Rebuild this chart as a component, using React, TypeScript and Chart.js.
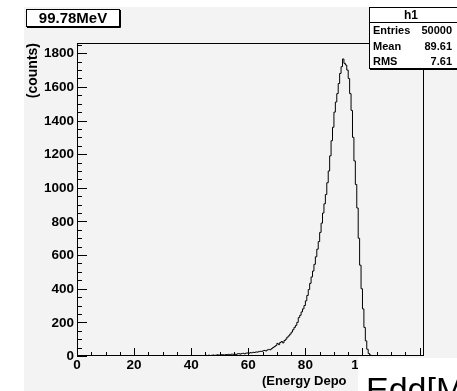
import { useEffect, useRef } from 'react';
import { Chart, registerables } from 'chart.js';

Chart.register(...registerables);

const W = 457;
const H = 391;

// Histogram binning (low edge of first bin and bin width, in MeV)
const BIN_START = 0;
const BIN_WIDTH = 0.5;
const X_MAX = 121.2;
const Y_MAX = 1855;

const xTickValues = [0, 20, 40, 60, 80, 100, 120];
const yTickValues = [0, 200, 400, 600, 800, 1000, 1200, 1400, 1600, 1800];
const X_MINOR_STEP = 5;
const Y_MINOR_STEP = 50;

// Bin contents, one per 0.5 MeV bin starting at 0 MeV
const counts = [
  // 0 - 10
  0, 0, 0, 0, 0, 0, 0, 0, 0, 0, 0, 0, 0, 0, 0, 0, 0, 0, 0, 0,
  // 10 - 20
  0, 0, 0, 0, 0, 0, 0, 0, 0, 0, 0, 0, 0, 0, 0, 0, 0, 0, 0, 0,
  // 20 - 30
  0, 0, 0, 0, 0, 0, 0, 0, 0, 0, 0, 0, 0, 0, 0, 0, 0, 0, 0, 0,
  // 30 - 40
  0, 1, 0, 0, 1, 0, 0, 1, 0, 1, 0, 0, 1, 1, 0, 1, 0, 2, 1, 0,
  // 40 - 50
  1, 2, 1, 2, 3, 1, 2, 3, 2, 3, 3, 4, 2, 5, 3, 4, 6, 4, 5, 7,
  // 50 - 60
  6, 5, 8, 7, 6, 9, 8, 10, 7, 11, 10, 12, 9, 13, 14, 11, 15, 16, 13, 17,
  // 60 - 70
  18, 16, 20, 19, 22, 21, 24, 23, 26, 28, 27, 31, 33, 30, 36, 39, 37, 44, 50, 56,
  // 70 - 80
  62, 75, 68, 80, 86, 78, 92, 100, 112, 120, 130, 142, 156, 170, 182, 200, 228, 242, 262, 280,
  // 80 - 90
  300, 328, 360, 395, 432, 470, 505, 545, 590, 635, 680, 735, 790, 850, 905, 960, 1030, 1100, 1190, 1280,
  // 90 - 100
  1360, 1450, 1510, 1560, 1620, 1680, 1720, 1766, 1740, 1730, 1700, 1650, 1560, 1460, 1300, 1160, 1020, 880, 700, 540,
  // 100 - 105
  400, 280, 170, 90, 40, 15, 6, 2, 1, 0,
];

const titleText = '99.78MeV';
const statsName = 'h1';
const statsLabels = ['Entries', 'Mean', 'RMS'];
const statsValues = ['50000', '89.61', '7.61'];
const yAxisTitle = '(counts)';
const xAxisTitle = '(Energy Depo';
const overlayText = 'Edd[MeV]';

const PAD_BG = '#f3f3f3';
const FONT = "'Liberation Sans', Arial, Helvetica, sans-serif";

export default function App() {
  const ref = useRef<HTMLCanvasElement>(null);

  useEffect(() => {
    const canvas = ref.current;
    if (!canvas) return;
    const ctx = canvas.getContext('2d');
    if (!ctx) return;

    const data = counts.map((c, i) => ({ x: BIN_START + i * BIN_WIDTH, y: c }));
    data.push({ x: X_MAX, y: 0 });

    const rootPlugin = {
      id: 'rootStyle',
      beforeDraw(chart: any) {
        const c = chart.ctx as CanvasRenderingContext2D;
        c.save();
        c.fillStyle = '#ffffff';
        c.fillRect(0, 0, W, H);
        c.fillStyle = PAD_BG;
        c.fillRect(24, 7, W - 24, H - 7);
        c.restore();
      },
      afterDraw(chart: any) {
        const c = chart.ctx as CanvasRenderingContext2D;
        const xs = chart.scales.x;
        const ys = chart.scales.y;
        const { left, right, top, bottom } = chart.chartArea;
        c.save();

        // frame
        c.strokeStyle = '#000';
        c.lineWidth = 1;
        c.strokeRect(Math.round(left) + 0.5, Math.round(top) - 0.5, Math.round(right - left), Math.round(bottom - top));

        // x ticks (inside)
        c.beginPath();
        for (let v = 0; v <= X_MAX + 1e-9; v += X_MINOR_STEP) {
          const px = Math.round(xs.getPixelForValue(v)) + 0.5;
          const len = v % 20 === 0 ? 8 : 4;
          c.moveTo(px, bottom);
          c.lineTo(px, bottom - len);
        }
        // y ticks (inside)
        for (let v = 0; v <= Y_MAX + 1e-9; v += Y_MINOR_STEP) {
          const py = Math.round(ys.getPixelForValue(v)) + 0.5;
          const len = v % 200 === 0 ? 10 : 5;
          c.moveTo(left, py);
          c.lineTo(left + len, py);
        }
        c.stroke();

        // tick labels
        c.fillStyle = '#000';
        c.font = `bold 13.5px ${FONT}`;
        c.textAlign = 'right';
        c.textBaseline = 'middle';
        yTickValues.forEach((v) => {
          c.fillText(String(v), left - 3, ys.getPixelForValue(v) + 0.5);
        });
        c.textAlign = 'center';
        c.textBaseline = 'middle';
        xTickValues.forEach((v) => {
          c.fillText(String(v), xs.getPixelForValue(v), 365);
        });

        // axis titles
        c.font = `bold 14px ${FONT}`;
        c.save();
        c.translate(33.5, 43);
        c.rotate(-Math.PI / 2);
        c.textAlign = 'right';
        c.textBaseline = 'middle';
        c.fillText(yAxisTitle, 0, 0);
        c.restore();

        c.font = `bold 13px ${FONT}`;
        c.textAlign = 'left';
        c.textBaseline = 'alphabetic';
        c.fillText(xAxisTitle, 262, 385);

        // title box
        c.fillStyle = '#fff';
        c.fillRect(27, 10, 92, 17);
        c.strokeStyle = '#000';
        c.strokeRect(26.5, 9.5, 93, 17);
        c.beginPath();
        c.moveTo(27, 27.5);
        c.lineTo(120.5, 27.5);
        c.lineTo(120.5, 10);
        c.stroke();
        c.fillStyle = '#000';
        c.font = `bold 15px ${FONT}`;
        c.textAlign = 'center';
        c.textBaseline = 'middle';
        c.fillText(titleText, 73, 18.5);

        // stats box
        c.fillStyle = '#fff';
        c.fillRect(369, 8, 92, 61);
        c.strokeStyle = '#000';
        c.strokeRect(369.5, 7.5, 92, 61);
        c.beginPath();
        c.moveTo(370, 69.5);
        c.lineTo(461, 69.5);
        c.moveTo(369.5, 22.5);
        c.lineTo(461, 22.5);
        c.stroke();
        c.fillStyle = '#000';
        c.font = `bold 12px ${FONT}`;
        c.textAlign = 'center';
        c.textBaseline = 'middle';
        c.fillText(statsName, 411, 15.5);
        c.font = `bold 11px ${FONT}`;
        const rowY = [30.5, 46.5, 62];
        statsLabels.forEach((lab, i) => {
          c.textAlign = 'left';
          c.fillText(lab, 373, rowY[i]);
          c.textAlign = 'right';
          c.fillText(statsValues[i], 452, rowY[i]);
        });

        // white overlay pad at bottom right
        c.fillStyle = '#fff';
        c.fillRect(358, 358, W - 358, H - 358);
        c.fillStyle = '#000';
        c.font = `34px ${FONT}`;
        c.textAlign = 'left';
        c.textBaseline = 'alphabetic';
        c.fillText(overlayText, 366, 401);

        c.restore();
      },
    };

    const chart = new Chart(ctx, {
      type: 'line',
      data: {
        datasets: [
          {
            data,
            borderColor: '#000',
            borderWidth: 1,
            stepped: 'after',
            pointRadius: 0,
            fill: false,
          },
        ],
      },
      options: {
        animation: false,
        responsive: false,
        devicePixelRatio: 1,
        layout: { padding: { left: 77, top: 44, right: 34, bottom: 35 } },
        plugins: { legend: { display: false }, tooltip: { enabled: false } },
        scales: {
          x: { type: 'linear', min: 0, max: X_MAX, display: false },
          y: { type: 'linear', min: 0, max: Y_MAX, display: false },
        },
      },
      plugins: [rootPlugin],
    });

    return () => chart.destroy();
  }, []);

  return (
    <div style={{ position: 'absolute', left: 0, top: 0, width: W, height: H }}>
      <canvas ref={ref} width={W} height={H} style={{ display: 'block', width: W, height: H }} />
    </div>
  );
}
